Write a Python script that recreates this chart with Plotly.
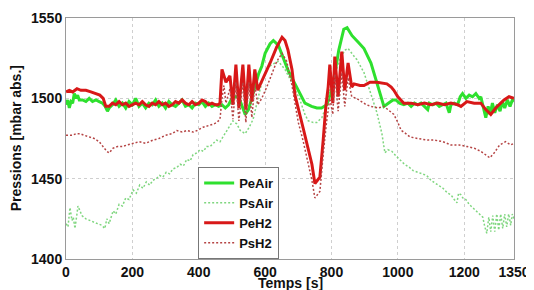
import plotly.graph_objects as go

# ---- data ----
t_PeAir = [0,5,10,15,20,25,30,35,40,50,60,70,80,90,100,110,118,125,130,140,150,160,170,180,190,200,210,220,230,240,250,260,270,280,290,300,310,320,330,340,350,360,370,380,390,400,410,420,430,440,450,460,470,480,490,500,510,520,530,540,550,560,570,580,590,600,615,625,640,655,670,685,700,720,740,756,770,786,800,810,822,837,847,862,880,898,919,937,950,958,965,973,985,994,1005,1018,1030,1040,1050,1060,1070,1080,1090,1095,1105,1115,1125,1135,1145,1155,1160,1170,1180,1188,1195,1205,1215,1225,1235,1245,1250,1258,1265,1272,1278,1285,1292,1300,1308,1315,1322,1330,1338,1345,1350]
PeAir = [1496,1499,1494,1498,1497,1503,1500,1502,1499,1499,1498,1500,1498,1499,1498,1497,1495,1492,1494,1496,1499,1495,1497,1494,1498,1496,1500,1495,1497,1494,1497,1496,1499,1495,1497,1494,1498,1496,1495,1497,1499,1495,1496,1494,1497,1496,1498,1495,1497,1495,1496,1495,1496,1494,1496,1500,1501,1501,1496,1490,1493,1500,1508,1515,1520,1528,1534,1536,1533,1525,1517,1511,1505,1497,1495,1494,1494,1496,1505,1515,1530,1543,1544,1539,1535,1531,1522,1510,1500,1495,1496,1497,1499,1499,1497,1496,1497,1495,1497,1496,1497,1495,1493,1497,1496,1497,1495,1496,1497,1491,1496,1497,1496,1501,1503,1500,1502,1501,1503,1500,1501,1494,1488,1495,1490,1497,1491,1496,1492,1498,1494,1499,1495,1499,1498]

t_PsAir = [0,6,12,18,22,27,33,36,42,48,60,70,81,95,108,117,123,130,142,150,160,170,180,190,202,212,222,232,242,252,262,272,282,292,302,312,322,334,344,354,364,374,383,394,404,414,424,434,444,454,464,473,485,495,503,515,525,540,552,564,578,590,605,620,640,660,680,705,720,730,745,756,771,784,795,810,825,840,850,865,877,898,919,925,937,952,961,970,982,995,1006,1020,1035,1046,1060,1075,1087,1100,1115,1125,1136,1150,1160,1170,1178,1183,1190,1196,1205,1215,1226,1240,1256,1262,1268,1274,1280,1286,1292,1298,1304,1310,1316,1322,1328,1334,1340,1345,1350]
PsAir = [1422,1420,1432,1424,1426,1419,1428,1433,1430,1427,1425,1424,1423,1422,1421,1419,1425,1422,1430,1428,1434,1433,1438,1437,1443,1441,1446,1444,1448,1446,1449,1450,1452,1451,1454,1453,1456,1457,1459,1458,1462,1461,1465,1466,1468,1467,1470,1470,1472,1474,1473,1476,1480,1484,1486,1484,1480,1478,1482,1487,1500,1510,1518,1521,1523,1518,1510,1499,1490,1486,1485,1485,1488,1495,1505,1515,1524,1530,1531,1527,1524,1516,1503,1499,1491,1478,1466,1468,1467,1464,1462,1459,1457,1455,1454,1453,1452,1449,1447,1446,1444,1441,1440,1437,1435,1441,1440,1438,1437,1434,1432,1429,1426,1420,1416,1426,1417,1427,1417,1428,1418,1428,1419,1428,1420,1428,1421,1428,1425]

t_PeH2 = [0,10,20,33,45,60,75,90,102,112,120,130,140,150,160,170,180,190,200,210,220,230,240,250,260,270,280,290,300,310,320,330,340,350,360,370,380,390,400,410,420,430,440,450,458,464,470,482,494,503,512,521,533,542,551,560,569,578,584,600,615,635,651,660,669,681,690,714,741,750,765,775,783,790,795,804,810,820,831,840,850,861,868,886,898,916,937,967,980,988,1000,1018,1040,1060,1080,1100,1120,1140,1160,1180,1190,1208,1230,1250,1265,1280,1295,1310,1320,1335,1350]
PeH2 = [1504,1505,1504,1506,1505,1505,1504,1503,1502,1500,1495,1495,1497,1496,1498,1496,1497,1495,1496,1497,1496,1498,1496,1495,1497,1496,1498,1496,1497,1495,1496,1498,1497,1499,1497,1496,1498,1496,1497,1499,1498,1496,1497,1496,1496,1497,1518,1510,1514,1496,1521,1494,1521,1493,1521,1498,1518,1505,1508,1515,1522,1532,1538,1536,1530,1518,1502,1482,1459,1447,1451,1474,1495,1507,1521,1497,1526,1501,1529,1505,1522,1507,1509,1508,1508,1510,1510,1509,1507,1505,1501,1497,1497,1496,1497,1496,1497,1496,1497,1496,1495,1498,1497,1497,1493,1490,1494,1497,1499,1501,1500]

t_PsH2 = [0,10,20,30,42,55,70,85,100,112,123,130,142,155,170,185,202,220,240,262,280,300,320,334,350,365,383,395,413,430,445,455,464,470,476,482,494,503,512,521,533,542,551,560,569,578,590,605,620,635,651,665,681,700,714,730,741,750,765,775,785,795,804,810,820,831,840,850,861,875,889,905,919,940,958,975,988,1000,1010,1018,1036,1060,1090,1110,1136,1160,1185,1208,1230,1250,1265,1277,1290,1307,1325,1340,1350]
PsH2 = [1477,1477,1477,1478,1478,1477,1476,1475,1473,1470,1467,1466,1469,1470,1470,1471,1472,1473,1472,1474,1475,1477,1478,1480,1479,1480,1479,1480,1482,1483,1484,1485,1487,1500,1508,1497,1506,1487,1510,1486,1510,1485,1510,1488,1508,1496,1500,1507,1515,1523,1528,1523,1508,1485,1474,1460,1449,1438,1442,1465,1485,1500,1490,1515,1492,1516,1495,1513,1501,1500,1498,1496,1495,1494,1495,1492,1490,1485,1480,1479,1476,1475,1474,1474,1473,1471,1471,1470,1469,1467,1465,1463,1466,1471,1473,1471,1472]

x_ticks = [0, 200, 400, 600, 800, 1000, 1200, 1350]
y_ticks = [1400, 1450, 1500, 1550]

FONT = "Liberation Sans, Arial, sans-serif"
TXT = "#111111"

fig = go.Figure()
fig.add_trace(go.Scatter(x=t_PeAir, y=PeAir, name="PeAir", mode="lines",
                         line=dict(color="#2ee02e", width=3)))
fig.add_trace(go.Scatter(x=t_PsAir, y=PsAir, name="PsAir", mode="lines",
                         line=dict(color="#7fd67f", width=1.5, dash="2px,2px")))
fig.add_trace(go.Scatter(x=t_PeH2, y=PeH2, name="PeH2", mode="lines",
                         line=dict(color="#d81818", width=3)))
fig.add_trace(go.Scatter(x=t_PsH2, y=PsH2, name="PsH2", mode="lines",
                         line=dict(color="#b54444", width=1.5, dash="2px,2px")))

axis_common = dict(
    showline=True, mirror=True, linecolor="#9a9a9a", linewidth=1,
    showgrid=True, gridcolor="#cfcfcf", griddash="dot", gridwidth=1,
    zeroline=False, ticks="", automargin=False,
    tickfont=dict(family=FONT, size=14, color=TXT, weight="bold"),
)

# the page places the figure 8px in from the top-left corner
fig.update_layout(
    width=526, height=282,
    margin=dict(l=58, r=20, t=10, b=31),
    paper_bgcolor="white", plot_bgcolor="white",
    font=dict(family=FONT, color=TXT),
    showlegend=True,
    legend=dict(x=0.295, y=0.0, xanchor="left", yanchor="bottom",
                bgcolor="white", bordercolor="#777777", borderwidth=1,
                font=dict(family=FONT, size=13, color=TXT, weight="bold"),
                itemwidth=30, tracegroupgap=0),
    xaxis=dict(range=[0, 1350], tickvals=x_ticks, ticktext=[str(v) for v in x_ticks],
               **axis_common),
    yaxis=dict(range=[1400, 1550], tickvals=y_ticks, ticktext=[str(v) for v in y_ticks],
               **axis_common),
    annotations=[
        dict(text="Temps [s]", xref="paper", yref="paper", x=0.5, y=-0.10,
             xanchor="center", yanchor="middle", showarrow=False,
             font=dict(family=FONT, size=14, color=TXT, weight="bold")),
        dict(text="Pressions [mbar abs.]", xref="paper", yref="paper", x=-0.112, y=0.5,
             xanchor="center", yanchor="middle", textangle=-90, showarrow=False,
             font=dict(family=FONT, size=14, color=TXT, weight="bold")),
    ],
)

fig.write_html("out.html")
